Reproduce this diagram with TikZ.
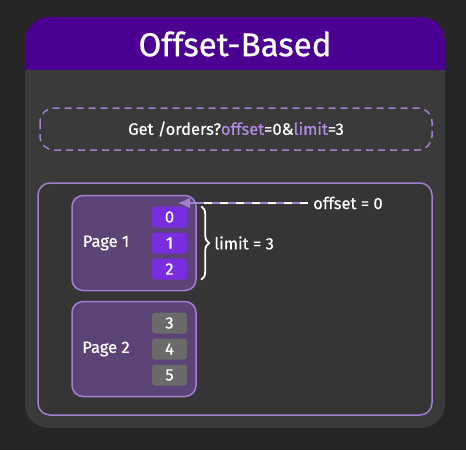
\documentclass[tikz,border=0pt]{standalone}
\usepackage{fontspec}
\setmainfont{Fira Sans}[UprightFeatures={FakeBold=0.6}]
\usetikzlibrary{decorations.pathreplacing,arrows.meta}
\definecolor{bgdark}{HTML}{262626}
\definecolor{cardgray}{HTML}{3A3A3A}
\definecolor{headpurple}{HTML}{4B0091}
\definecolor{linepurple}{HTML}{A27FD0}
\definecolor{pagefill}{HTML}{5B4475}
\definecolor{itempurple}{HTML}{7A2DE0}
\definecolor{itemgray}{HTML}{6B6B6B}
\definecolor{textpurple}{HTML}{B48CE6}
\tikzset{
  pagebox/.style={draw=linepurple, line width=1.5pt, fill=pagefill, rounded corners=11pt,
    minimum width=124pt, minimum height=95pt},
  itembox/.style={rounded corners=3pt, minimum width=35pt, minimum height=21pt,
    text=white, font=\fontsize{16.5}{16.5}\selectfont, inner sep=0pt},
  label/.style={text=white, font=\fontsize{16.5}{18}\selectfont, inner sep=0pt}
}
\begin{document}
\begin{tikzpicture}[x=1pt,y=-1pt]
  \useasboundingbox (0,0) rectangle (466,450);
  \fill[bgdark] (0,0) rectangle (466,450);
  % card with header
  \fill[cardgray, rounded corners=24pt] (25,17) rectangle (445,428);
  \begin{scope}
    \clip[rounded corners=24pt] (25,17) rectangle (445,428);
    \fill[headpurple] (25,17) rectangle (445,70);
  \end{scope}
  \node[text=white, font=\fontsize{33}{33}\selectfont] (title) at (235,44) {Offset-Based};
  % request
  \draw[linepurple, dashed, dash pattern=on 7pt off 5pt, line width=1.5pt, rounded corners=14pt]
    (40,108) rectangle (432,150);
  \node[label] (req) at (236,129) {Get /orders?\textcolor{textpurple}{offset}=0\&\textcolor{textpurple}{limit}=3};
  % result area
  \draw[linepurple, line width=1.5pt, fill=cardgray!92!black, rounded corners=12pt] (38,183) rectangle (432,415);
  \node[pagebox] (p1) at (134,243) {};
  \node[pagebox] (p2) at (134,349) {};
  \node[label] at (106,243) {Page 1};
  \node[label] at (106,349) {Page 2};
  \foreach \i/\y in {0/217,1/243,2/269}
    \node[itembox, fill=itempurple] (i\i) at (169.5,\y) {\i};
  \foreach \i/\y in {3/323,4/349,5/375}
    \node[itembox, fill=itemgray] (i\i) at (169.5,\y) {\i};
  % offset pointer
  \node[label, anchor=west] (oflabel) at (313,203) {offset = 0};
  \coordinate (oftip) at (178,203);
  \draw[linepurple, line width=2pt, -{Latex[length=12pt,width=11pt]}] (oflabel.west) ++(-5,0) -- (oftip);
  \draw[white, line width=2pt, dash pattern=on 8pt off 8pt] ([xshift=-5pt]oflabel.west) -- (196,203);
  % limit brace
  \draw[white, line width=1.8pt, decorate, decoration={brace, amplitude=8pt}]
    ([xshift=14pt]i0.north east) -- ([xshift=14pt]i2.south east) coordinate[midway, xshift=9pt] (btip);
  \node[label, anchor=west] (lmlabel) at ([xshift=4pt]btip) {limit = 3};
\end{tikzpicture}
\end{document}
